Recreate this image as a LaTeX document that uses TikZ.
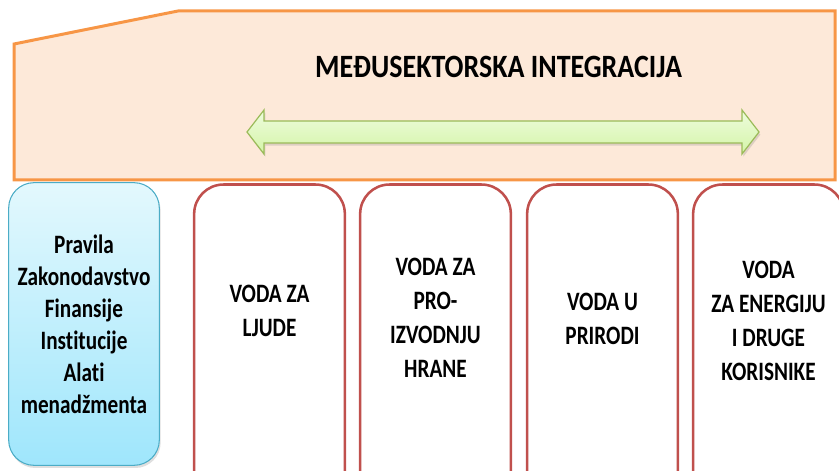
\documentclass[tikz,border=0pt]{standalone}
\usepackage{fontspec}
\setmainfont{Carlito}
\newfontfamily\kutijafont{Carlito}[FakeStretch=0.8, Ligatures=NoCommon]
\newfontfamily\naslovfont{Carlito}[FakeStretch=0.86, Ligatures=NoCommon]
\usetikzlibrary{shadows}

\definecolor{narandzasta}{HTML}{F79646}
\definecolor{breskva}{HTML}{FDE9D9}
\definecolor{crvena}{HTML}{C0504D}
\definecolor{plavaivica}{HTML}{4BACC6}
\definecolor{plavagore}{HTML}{E3F8FD}
\definecolor{plavadole}{HTML}{9FE6FC}
\definecolor{zelenaivica}{HTML}{9BBB59}
\definecolor{zelenagore}{HTML}{EEFCDD}
\definecolor{zelenadole}{HTML}{D4F4A8}

\begin{document}
\begin{tikzpicture}[x=0.75pt, y=0.75pt,
    voda/.style={draw=crvena, line width=1.9pt, fill=white, rounded corners=22pt,
                 minimum width=113pt, minimum height=300pt, anchor=north},
    natpis/.style={font=\kutijafont\bfseries\fontsize{19.9}{25.5}\selectfont, align=center},
    naslov/.style={font=\naslovfont\bfseries\fontsize{24.4}{28}\selectfont},
    pravila/.style={draw=plavaivica, line width=0.8pt, top color=plavagore, bottom color=plavadole,
                    rounded corners=19pt, minimum width=113pt, minimum height=212pt,
                    drop shadow={opacity=0.25, shadow xshift=1pt, shadow yshift=-2pt},
                    font=\kutijafont\bfseries\fontsize{19.9}{24}\selectfont, align=center}]

    \useasboundingbox (0,0) rectangle (839,471);
    \clip (0,0) rectangle (839,471);

    % ================================================================================================
    % kutije
    % ================================================================================================
    \foreach \x [count=\i] in {269.5,435.5,602.5,768.5}
    \node [voda] (voda-\i) at (\x,287.75) {};

    \foreach \x/\y/\t [count=\i] in {269.5/160/{VODA ZA\\LJUDE},
                                     435.5/153/{VODA ZA\\PRO-\\IZVODNJU\\HRANE},
                                     602.5/152/{VODA U\\PRIRODI},
                                     768.5/150/{VODA\\ZA ENERGIJU\\I DRUGE\\KORISNIKE}}
    \node [natpis] (natpis-\i) at (\x,\y) {\t};

    % ================================================================================================
    % integracija
    % ================================================================================================
    \draw [line width=2.25pt, draw=narandzasta, fill=breskva]
        (14,427) -- (178,460) -- (835,460) -- (835,291) -- (14,291) -- cycle;

    \node [naslov] (naslov) at (498.5,404) {MEĐUSEKTORSKA INTEGRACIJA};

    \draw [draw=zelenaivica, line width=0.9pt, top color=zelenagore, bottom color=zelenadole,
           drop shadow={opacity=0.25, shadow xshift=1pt, shadow yshift=-2pt}]
        (247,339) -- (264,361) -- (264,350) -- (742,350) -- (742,361) -- (759,339)
        -- (742,317) -- (742,328) -- (264,328) -- (264,317) -- cycle;

    % ================================================================================================
    % pravila
    % ================================================================================================
    \node [pravila] (pravila) at (84,147)
        {Pravila\\Zakonodavstvo\\Finansije\\Institucije\\Alati\\menadžmenta};

\end{tikzpicture}
\end{document}
